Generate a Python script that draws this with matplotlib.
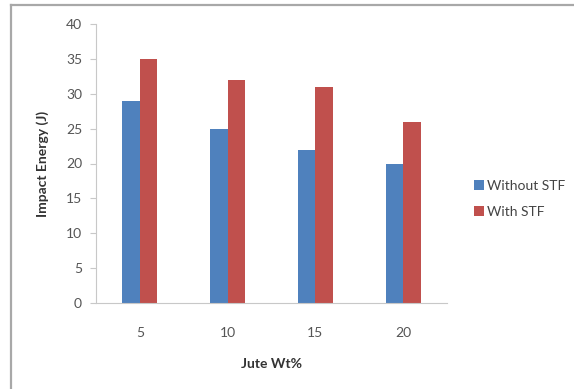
import matplotlib
matplotlib.use("Agg")
import matplotlib.pyplot as plt
from matplotlib.lines import Line2D
import numpy as np

# data
jute_wt = ["5", "10", "15", "20"]
without_stf = [29, 25, 22, 20]
with_stf = [35, 32, 31, 26]
y_ticks = [0, 5, 10, 15, 20, 25, 30, 35, 40]

plt.rcParams['font.family'] = ['Lato', 'DejaVu Sans']

fig = plt.figure(figsize=(5.74, 3.89), dpi=100)
ax = fig.add_axes([96 / 574, 1 - 303 / 389, 351 / 574, 279 / 389])

x = np.arange(len(jute_wt))
w = 0.2
ax.bar(x - w / 2, without_stf, w, color='#4F81BD', label='Without STF')
ax.bar(x + w / 2, with_stf, w, color='#C0504D', label='With STF')

ax.set_xlim(-0.5, 3.5)
ax.set_ylim(0, 40)
ax.set_yticks(y_ticks)
ax.set_xticks(x)
ax.set_xticklabels(jute_wt)

for s in ['top', 'right']:
    ax.spines[s].set_visible(False)
for s in ['left', 'bottom']:
    ax.spines[s].set_color('#c8c8c8')
    ax.spines[s].set_linewidth(0.8)

ax.tick_params(axis='y', length=4, color='#c8c8c8', labelsize=10, labelcolor='#555555', pad=6)
ax.tick_params(axis='x', length=0, labelsize=10, labelcolor='#555555', pad=17)

ax.set_xlabel('Jute Wt%', fontsize=10, fontweight='bold', color='#333333', labelpad=14)
ax.set_ylabel('Impact Energy (J)', fontsize=10, fontweight='bold', color='#333333', labelpad=12)

ax.legend(loc='center left', bbox_to_anchor=(1.077, 0.373), frameon=False,
          borderpad=0, borderaxespad=0,
          fontsize=10, labelcolor='#444444', handlelength=0.7, handleheight=0.7,
          labelspacing=1.0, handletextpad=0.2)

# outer frame like the Excel chart area
fig.add_artist(Line2D([11 / 574, 1.0], [1 - 5 / 389, 1 - 5 / 389],
                      color='#a8a8a8', lw=1.6, transform=fig.transFigure))
fig.add_artist(Line2D([11 / 574, 11 / 574], [0.0, 1 - 5 / 389],
                      color='#a8a8a8', lw=1.6, transform=fig.transFigure))

fig.savefig('out.png', dpi=100)
